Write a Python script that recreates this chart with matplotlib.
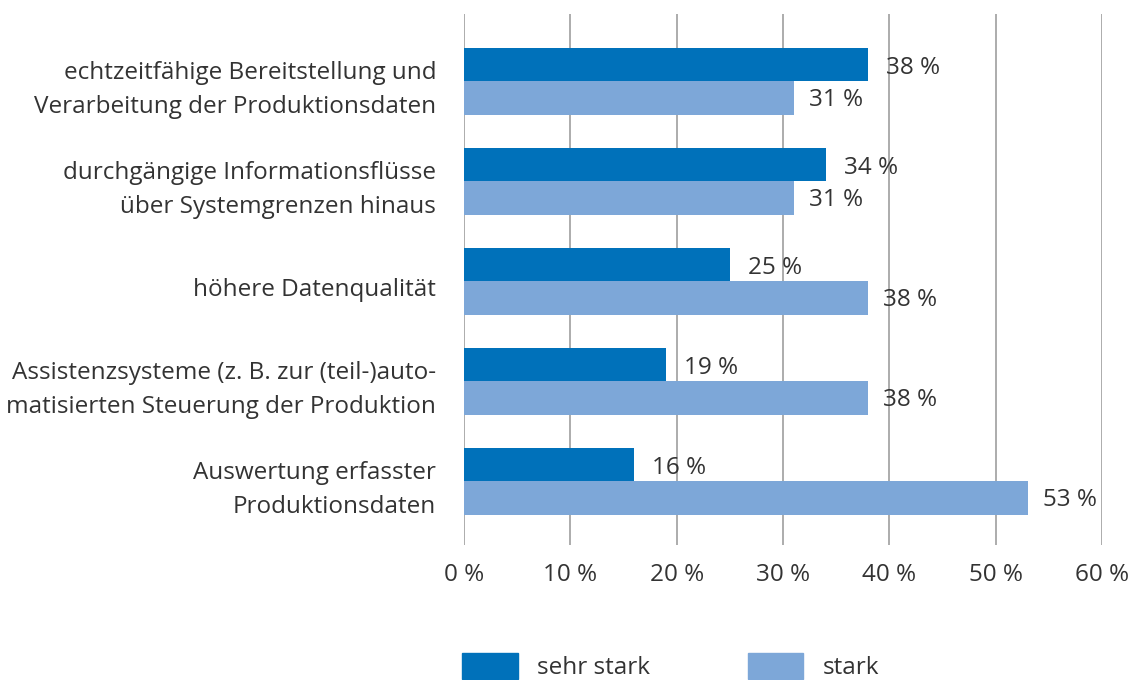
import matplotlib.pyplot as plt
import matplotlib.patches as mpatches
import numpy as np

plt.rcParams['font.family'] = ['Open Sans', 'DejaVu Sans']

categories = [
    'echtzeitfähige Bereitstellung und\nVerarbeitung der Produktionsdaten',
    'durchgängige Informationsflüsse\nüber Systemgrenzen hinaus',
    'höhere Datenqualität',
    'Assistenzsysteme (z. B. zur (teil-)auto-\nmatisierten Steuerung der Produktion',
    'Auswertung erfasster\nProduktionsdaten',
]
sehr_stark = [38, 34, 25, 19, 16]
stark = [31, 31, 38, 38, 53]
xticks = [0, 10, 20, 30, 40, 50, 60]

dark = '#0071BA'
light = '#7DA7D8'
txt = '#333333'
fs = 17.5

fig = plt.figure(figsize=(11.28, 6.8), dpi=100)
ax = fig.add_axes([464 / 1128, 1 - 545 / 680, (1102 - 464) / 1128, (545 - 14) / 680])

y = np.arange(len(categories))
h = 0.335
ax.barh(y - h / 2, sehr_stark, height=h, color=dark, zorder=2)
ax.barh(y + h / 2, stark, height=h, color=light, zorder=2)

for yi, v in zip(y, sehr_stark):
    ax.annotate(f'{v} %', (v, yi - h / 2 + 0.04), xytext=(13, 0), textcoords='offset points',
                va='center', ha='left', fontsize=fs, color=txt)
for yi, v in zip(y, stark):
    ax.annotate(f'{v} %', (v, yi + h / 2 + 0.02), xytext=(11, 0), textcoords='offset points',
                va='center', ha='left', fontsize=fs, color=txt)

for yi, c in zip(y, categories):
    ax.annotate(c, (0, yi + 0.09), xytext=(-20, 0), textcoords='offset points',
                ha='right', va='center', fontsize=fs, color=txt, linespacing=1.55)

ax.set_xlim(0, 60)
ax.set_ylim(4.64, -0.67)
ax.set_xticks(xticks)
ax.set_xticklabels([f'{t} %' for t in xticks], fontsize=fs, color=txt)
ax.set_yticks([])
ax.tick_params(axis='x', length=0, pad=13)
ax.grid(axis='x', color='#a6a6a6', linewidth=1.3, zorder=0)
for s in ax.spines.values():
    s.set_visible(False)

handles = [mpatches.Patch(color=dark, label='sehr stark'),
           mpatches.Patch(color=light, label='stark')]
fig.legend(handles=handles, loc='lower left', bbox_to_anchor=(462 / 1128, 0), ncol=2,
           frameon=False, fontsize=fs, labelcolor=txt, handlelength=2.3, handleheight=1.3,
           handletextpad=0.8, columnspacing=4.0, borderpad=0, borderaxespad=0)

fig.savefig('out.png', dpi=100)
